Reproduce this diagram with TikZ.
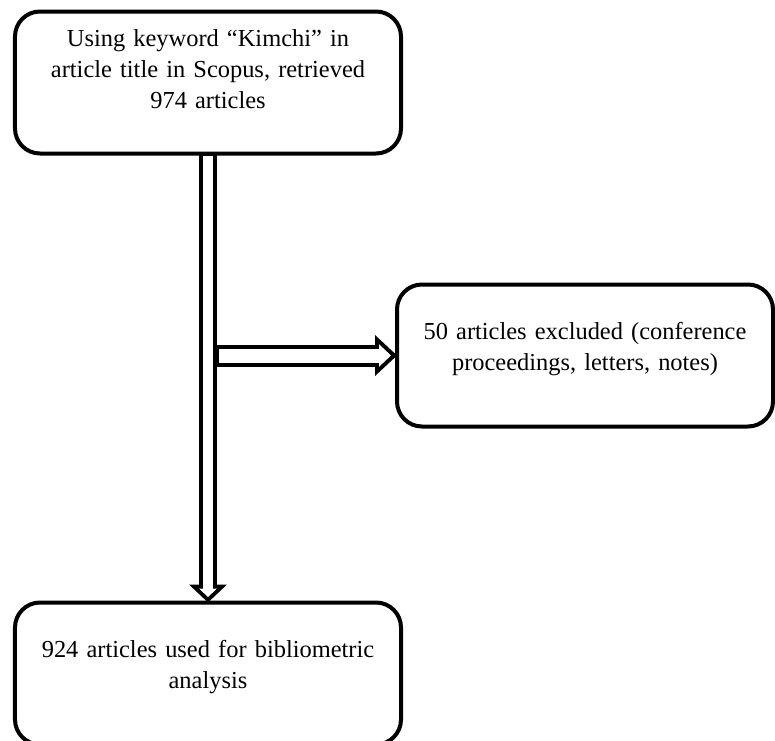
\documentclass[tikz,border=0pt]{standalone}
\usepackage{fontspec}
\setmainfont{Liberation Serif}
\usepackage{tikz}
\usetikzlibrary{arrows.meta,positioning}

\begin{document}
\begin{tikzpicture}

\tikzstyle{box} = [draw, rectangle, rounded corners=0.5cm, line width=0.08cm, outer sep=0pt, minimum width=7.72cm, minimum height=2.84cm, text width=7cm, align=center, text depth=0.975cm, font=\fontsize{13.9pt}{17.6pt}\selectfont]
\tikzstyle{down} = [preaction={draw=black, line width=0.36cm, shorten <=0pt, shorten >=0pt, -{Triangle[length=0.36cm, width=0.76cm, line width=0pt]}}, draw=white, line width=0.2cm, shorten <=0.04cm, shorten >=0.11cm, -{Triangle[length=0.17cm, width=0.36cm, line width=0pt]}]
\tikzstyle{side} = [preaction={draw=black, line width=0.44cm, shorten <=0pt, shorten >=0pt, -{Triangle[length=0.44cm, width=0.82cm, line width=0pt]}}, draw=white, line width=0.28cm, shorten <=0.08cm, shorten >=0.12cm, -{Triangle[length=0.24cm, width=0.45cm, line width=0pt]}]

\useasboundingbox (-4.16,1.65) rectangle (11.34,-13.15);

\node [box, text depth=1.76cm] (search) {Using keyword “Kimchi” in\\ article title in Scopus, retrieved\\ 974 articles};
\node [box, minimum width=7.52cm, below right = 2.62cm and -0.08cm of search] (excluded) {50 articles excluded (conference\\ proceedings, letters, notes)};
\node [box, below = 8.98cm of search] (result) {924 articles used for bibliometric\\ analysis};

\coordinate [xshift=0.14cm] (split) at (search.south |- excluded.west);

\draw [down] (search) -- (result);
\draw [side] (split) -- (excluded.west);
\end{tikzpicture}
\end{document}
